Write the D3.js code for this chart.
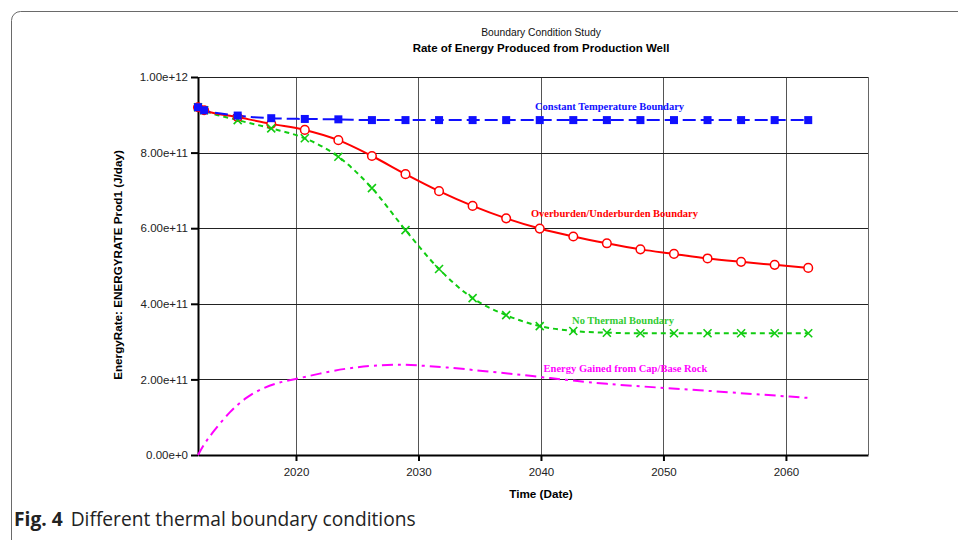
<!DOCTYPE html>
<html>
<head>
<meta charset="utf-8">
<script src="https://cdn.jsdelivr.net/npm/d3@7"></script>
<style>
  html, body { margin: 0; padding: 0; background: #fff; }
  svg { display: block; }
</style>
</head>
<body>
<svg id="chart" width="958" height="540"></svg>
<script>
// ---------- DATA ----------
const titleLine1 = "Boundary Condition Study";
const titleLine2 = "Rate of Energy Produced from Production Well";
const xAxisTitle = "Time (Date)";
const yAxisTitle = "EnergyRate: ENERGYRATE Prod1 (J/day)";
const captionBold = "Fig. 4";
const captionText = "Different thermal boundary conditions";

const xDomain = [2012.0, 2066.7];
const xTickValues = [2020, 2030, 2040, 2050, 2060];
const xTickLabels = ["2020", "2030", "2040", "2050", "2060"];
const yDomain = [0, 1e12];
const yTickValues = [0, 2e11, 4e11, 6e11, 8e11, 1e12];
const yTickLabels = ["0.00e+0", "2.00e+11", "4.00e+11", "6.00e+11", "8.00e+11", "1.00e+12"];

// decimal years of the reported points (every 1000 days)
const markerYears = [2012.0, 2012.5, 2015.24, 2017.98, 2020.72, 2023.46, 2026.2, 2028.94,
  2031.68, 2034.42, 2037.16, 2039.9, 2042.64, 2045.38, 2048.12, 2050.86, 2053.6,
  2056.34, 2059.08, 2061.82];

const constantTemp = [9.20e11, 9.12e11, 8.98e11, 8.91e11, 8.89e11, 8.88e11, 8.86e11, 8.86e11,
  8.86e11, 8.86e11, 8.86e11, 8.86e11, 8.86e11, 8.86e11, 8.86e11, 8.86e11, 8.86e11,
  8.86e11, 8.86e11, 8.86e11];

const overUnderburden = [9.20e11, 9.12e11, 8.94e11, 8.76e11, 8.60e11, 8.33e11, 7.91e11, 7.43e11,
  6.98e11, 6.59e11, 6.26e11, 5.99e11, 5.78e11, 5.60e11, 5.44e11, 5.32e11, 5.20e11,
  5.11e11, 5.03e11, 4.95e11];

const noThermal = [9.20e11, 9.12e11, 8.86e11, 8.64e11, 8.38e11, 7.89e11, 7.06e11, 5.95e11,
  4.92e11, 4.15e11, 3.70e11, 3.41e11, 3.28e11, 3.235e11, 3.22e11, 3.22e11, 3.22e11,
  3.22e11, 3.22e11, 3.22e11];

const gainedYears = [2012.0, 2012.57, 2013.26, 2014.61, 2015.98, 2017.33, 2018.69, 2020.0, 2022.8,
  2025.0, 2026.9, 2028.5, 2029.6, 2032.35, 2035.05, 2040.2, 2044.85, 2052.75, 2061.82];
const gainedCapBase = [0, 0.33e11, 0.62e11, 1.16e11, 1.54e11, 1.78e11, 1.93e11, 2.01e11, 2.22e11,
  2.33e11, 2.38e11, 2.39e11, 2.38e11, 2.32e11, 2.23e11, 2.06e11, 1.88e11, 1.72e11, 1.51e11];

const seriesNames = ["Constant Temperature Boundary", "Overburden/Underburden Boundary",
  "No Thermal Boundary", "Energy Gained from Cap/Base Rock"];

// ---------- LAYOUT ----------
const svg = d3.select("#chart");
const plot = { left: 198, right: 868, top: 77, bottom: 455 };
const SANS = "'Liberation Sans', Arial, sans-serif";

const x = d3.scaleLinear().domain(xDomain).range([plot.left, plot.right]);
const y = d3.scaleLinear().domain(yDomain).range([plot.bottom, plot.top]);

// outer rounded frame
svg.append("rect")
  .attr("x", 11.5).attr("y", 11.5)
  .attr("width", 1000).attr("height", 540)
  .attr("rx", 9).attr("ry", 9)
  .attr("fill", "none").attr("stroke", "#6a6a6a").attr("stroke-width", 1);

// titles
svg.append("text").attr("x", 541).attr("y", 36)
  .attr("text-anchor", "middle")
  .style("font-family", SANS)
  .style("font-size", "10.3px").attr("fill", "#111").text(titleLine1);
svg.append("text").attr("x", 541).attr("y", 52)
  .attr("text-anchor", "middle")
  .style("font-family", SANS)
  .style("font-size", "11.5px").style("font-weight", "bold").attr("fill", "#000").text(titleLine2);

// grid
const grid = svg.append("g");
grid.selectAll(".vg").data(xTickValues).enter().append("line")
  .attr("x1", d => Math.round(x(d)) + 0.5).attr("x2", d => Math.round(x(d)) + 0.5)
  .attr("y1", plot.top).attr("y2", plot.bottom)
  .attr("stroke", "#555").attr("stroke-width", 1);
grid.selectAll(".hg").data(yTickValues.slice(1)).enter().append("line")
  .attr("x1", plot.left).attr("x2", plot.right)
  .attr("y1", d => Math.round(y(d)) + 0.5).attr("y2", d => Math.round(y(d)) + 0.5)
  .attr("stroke", "#222").attr("stroke-width", 1);
// right border
grid.append("line")
  .attr("x1", plot.right + 0.5).attr("x2", plot.right + 0.5)
  .attr("y1", plot.top).attr("y2", plot.bottom)
  .attr("stroke", "#666").attr("stroke-width", 1);

// axes
const xAxis = d3.axisBottom(x).tickValues(xTickValues)
  .tickFormat((d, i) => xTickLabels[i]).tickSize(6).tickSizeOuter(0);
const gx = svg.append("g").attr("transform", `translate(0,${plot.bottom})`).call(xAxis);
gx.select(".domain").attr("stroke", "#000").attr("stroke-width", 2);
gx.selectAll(".tick line").attr("stroke", "#000").attr("stroke-width", 2);
gx.selectAll(".tick text").attr("dy", "1.0em")
  .style("font-family", SANS)
  .style("font-size", "11.5px").attr("fill", "#222");

const yAxis = d3.axisLeft(y).tickValues(yTickValues)
  .tickFormat((d, i) => yTickLabels[i]).tickSize(7).tickSizeOuter(0);
const gy = svg.append("g").attr("transform", `translate(${plot.left},0)`).call(yAxis);
gy.select(".domain").attr("stroke", "#000").attr("stroke-width", 2);
gy.selectAll(".tick line").attr("stroke", "#000").attr("stroke-width", 2);
gy.selectAll(".tick text").attr("x", -10)
  .style("font-family", SANS)
  .style("font-size", "11.5px").attr("fill", "#222");

// axis titles
svg.append("text").attr("x", 541).attr("y", 498)
  .attr("text-anchor", "middle")
  .style("font-family", SANS)
  .style("font-size", "11.7px").style("font-weight", "bold").text(xAxisTitle);
svg.append("text").attr("transform", "translate(122,265) rotate(-90)")
  .attr("text-anchor", "middle")
  .style("font-family", SANS)
  .style("font-size", "11.7px").style("font-weight", "bold").text(yAxisTitle);

// ---------- SERIES ----------
const line = d3.line().x(d => x(d[0])).y(d => y(d[1])).curve(d3.curveMonotoneX);
const g = svg.append("g");

const pts = arr => markerYears.map((yr, i) => [yr, arr[i]]);

const BLUE = "#1010ff", RED = "#ff0000", GREEN = "#11cc11", MAG = "#ff00ff";

// magenta
g.append("path").datum(gainedYears.map((yr, i) => [yr, gainedCapBase[i]]))
  .attr("d", d3.line().x(d => x(d[0])).y(d => y(d[1])).curve(d3.curveBasis))
  .attr("fill", "none").attr("stroke", MAG).attr("stroke-width", 2)
  .attr("stroke-dasharray", "11,5,3,5");

// green
g.append("path").datum(pts(noThermal))
  .attr("d", line).attr("fill", "none").attr("stroke", GREEN).attr("stroke-width", 2)
  .attr("stroke-dasharray", "5,4");

// red
g.append("path").datum(pts(overUnderburden))
  .attr("d", line).attr("fill", "none").attr("stroke", RED).attr("stroke-width", 2);

// blue
g.append("path").datum(pts(constantTemp))
  .attr("d", line).attr("fill", "none").attr("stroke", BLUE).attr("stroke-width", 2)
  .attr("stroke-dasharray", "13,5");

// markers: red circles
g.selectAll(".rc").data(pts(overUnderburden)).enter().append("circle")
  .attr("cx", d => x(d[0])).attr("cy", d => y(d[1])).attr("r", 4.3)
  .attr("fill", "#fff").attr("stroke", RED).attr("stroke-width", 1.5);

// green crosses
const cs = 4;
g.selectAll(".gx").data(pts(noThermal)).enter().append("path")
  .attr("d", d => {
    const cx = x(d[0]), cy = y(d[1]);
    return `M${cx - cs},${cy - cs}L${cx + cs},${cy + cs}M${cx - cs},${cy + cs}L${cx + cs},${cy - cs}`;
  })
  .attr("stroke", GREEN).attr("stroke-width", 1.6).attr("fill", "none");

// blue squares
const sq = 8;
g.selectAll(".bs").data(pts(constantTemp)).enter().append("rect")
  .attr("x", d => x(d[0]) - sq / 2).attr("y", d => y(d[1]) - sq / 2)
  .attr("width", sq).attr("height", sq).attr("fill", BLUE);

// series labels
const labelPos = [
  { yr: 2045.6, v: 0.913e12, c: BLUE },
  { yr: 2046.0, v: 0.630e12, c: RED },
  { yr: 2046.7, v: 0.347e12, c: "#33cc33" },
  { yr: 2046.9, v: 0.220e12, c: MAG }
];
svg.selectAll(".slab").data(seriesNames).enter().append("text")
  .attr("x", (d, i) => x(labelPos[i].yr)).attr("y", (d, i) => y(labelPos[i].v))
  .attr("text-anchor", "middle")
  .style("font-family", "'Liberation Serif', 'Times New Roman', serif")
  .style("font-size", "10.5px").style("font-weight", "bold")
  .attr("fill", (d, i) => labelPos[i].c).text(d => d);

// caption
const cap = svg.append("text").attr("x", 14).attr("y", 526)
  .style("font-family", "'Open Sans', 'Noto Sans', sans-serif")
  .style("font-size", "19.2px").attr("fill", "#222");
cap.append("tspan").style("font-weight", "bold").text(captionBold);
cap.append("tspan").attr("dx", 8).text(captionText);
</script>
</body>
</html>
